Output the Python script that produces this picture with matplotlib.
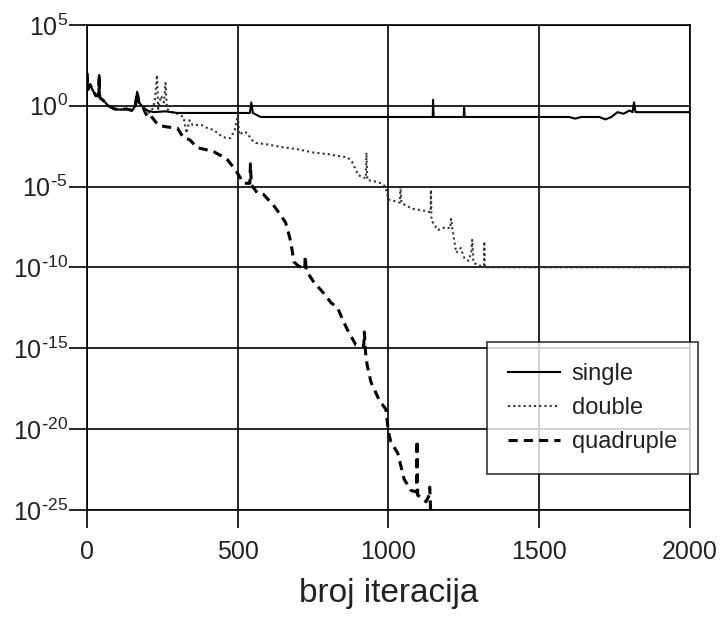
import numpy as np
import matplotlib
matplotlib.use("Agg")
import matplotlib.pyplot as plt
from matplotlib.ticker import FixedLocator, FuncFormatter, NullLocator

plt.rcParams['font.family'] = ['Liberation Sans', 'DejaVu Sans']

# iteration, log10(error)
single_it = [0, 3, 10, 20, 30, 38, 40, 42, 55, 70, 90, 110, 130, 150, 160, 166, 172,
             186, 200, 220, 260, 300, 400, 500, 540, 545, 550, 576, 600, 800, 1000,
             1147, 1148, 1150, 1250, 1251, 1253, 1600, 1620, 1640, 1700, 1720, 1740,
             1760, 1780, 1800, 1810, 1815, 1820, 2000]
single_lg = [2.0, 1.0, 1.3, 0.9, 0.6, 0.7, 1.9, 0.5, 0.3, 0.0, -0.2, -0.25, -0.2, -0.3, 0.0, 0.85, 0.2,
             -0.1, -0.3, -0.4, -0.35, -0.45, -0.45, -0.45, -0.45, 0.2, -0.45, -0.7, -0.7, -0.7, -0.7,
             -0.7, 0.36, -0.7, -0.7, -0.1, -0.7, -0.7, -0.8, -0.7, -0.7, -0.85, -0.7,
             -0.4, -0.5, -0.3, -0.4, 0.2, -0.4, -0.4]

double_it = [0, 3, 10, 20, 30, 38, 40, 42, 55, 70, 90, 110, 130, 150, 160, 166, 172, 186,
             200, 215, 225, 232, 236, 245, 255, 260, 265, 280, 300, 320, 330, 340, 350, 380,
             400, 420, 440, 460, 476, 490, 500, 505, 520, 532, 545, 560, 600, 642, 700, 752,
             800, 830, 865, 880, 900, 925, 927, 930, 960, 975, 990, 1000, 1020, 1038, 1040,
             1043, 1060, 1085, 1120, 1140, 1141, 1143, 1164, 1190, 1205, 1208, 1212, 1225,
             1240, 1251, 1265, 1275, 1278, 1282, 1300, 1317, 1318, 1320, 1330, 2000]
double_lg = [2.0, 1.0, 1.3, 0.9, 0.6, 0.7, 1.9, 0.5, 0.3, 0.0, -0.2, -0.25, -0.2, -0.3, 0.0, 0.85, 0.2, -0.1,
             -0.5, -0.3, 0.3, 1.9, -0.2, 0.6, 0.2, 1.4, -0.2, -0.4, -0.5, -0.7, -1.7, -0.9, -1.2, -1.2,
             -1.4, -1.5, -1.8, -2.0, -2.0, -1.5, -0.6, -1.8, -1.6, -1.7, -2.1, -2.3, -2.4, -2.55, -2.7, -2.9,
             -3.0, -3.1, -3.2, -3.5, -4.3, -4.5, -2.9, -4.6, -4.7, -4.8, -5.0, -5.8, -5.9, -6.0, -5.0,
             -6.0, -6.2, -6.4, -6.5, -6.6, -5.2, -7.1, -7.7, -7.5, -7.6, -7.0, -7.6, -9.1,
             -8.8, -9.4, -9.6, -9.1, -8.3, -9.7, -9.9, -9.9, -8.4, -10.0, -10.0, -10.0]

quad_it = [0, 3, 10, 20, 30, 38, 40, 42, 55, 70, 90, 110, 130, 150, 160, 166, 172, 186,
           190, 200, 210, 236, 260, 300, 320, 340, 366, 390, 420, 445, 466, 493, 520, 540,
           542, 545, 565, 586, 620, 642, 659, 673, 680, 686, 700, 722, 724, 727, 752, 785,
           810, 831, 852, 865, 892, 918, 920, 925, 930, 942, 969, 992, 1000, 1008, 1031,
           1052, 1075, 1093, 1095, 1097, 1108, 1125, 1135, 1137, 1140]
quad_lg = [2.0, 1.0, 1.3, 0.9, 0.6, 0.7, 1.9, 0.5, 0.3, 0.0, -0.2, -0.25, -0.2, -0.3, 0.0, 0.85, 0.2, -0.1,
           -0.3, -0.7, -0.6, -1.2, -1.3, -1.4, -2.0, -2.1, -2.6, -2.7, -2.85, -3.1, -3.35, -4.0, -4.8, -4.8,
           -3.6, -4.9, -5.4, -5.5, -6.2, -6.75, -7.25, -8.2, -8.9, -9.65, -9.9, -10.1, -9.3, -10.2, -10.9, -11.6,
           -12.2, -12.5, -13.4, -13.9, -14.8, -14.9, -14.0, -15.5, -16.1, -17.1, -18.2, -18.8, -20.2, -20.8, -21.5,
           -23.1, -23.8, -23.9, -20.7, -24.1, -24.2, -24.5, -24.1, -23.6, -25.0]

y_exps = [5, 0, -5, -10, -15, -20, -25]
x_ticks = [0, 500, 1000, 1500, 2000]


def exp_label(v, pos):
    e = int(round(np.log10(v)))
    if e < 0:
        return r'$\mathregular{10^{\text{-}%d}}$' % (-e)
    return r'$\mathregular{10^{%d}}$' % e


fig = plt.figure(figsize=(7.2, 6.21), dpi=100)
ax = fig.add_axes([0.121, 0.179, 0.837, 0.781])

ax.plot(quad_it, 10.0 ** np.array(quad_lg), color='black', ls=(0, (3, 2)), lw=2.2, label='quadruple')
ax.plot(double_it, 10.0 ** np.array(double_lg), color='#333333', ls=(0, (1, 1.5)), lw=1.5, label='double')
ax.plot(single_it, 10.0 ** np.array(single_lg), color='black', ls='-', lw=1.5, label='single')

ax.set_yscale('log')
ax.set_xlim(0, 2000)
ax.set_ylim(1e-25, 1e5)
ax.yaxis.set_major_locator(FixedLocator([10.0 ** e for e in y_exps]))
ax.yaxis.set_minor_locator(NullLocator())
ax.yaxis.set_major_formatter(FuncFormatter(exp_label))
ax.set_xticks(x_ticks)

ax.grid(True, color='black', lw=1.2)
for s in ax.spines.values():
    s.set_color('black')
    s.set_linewidth(1.2)
ax.tick_params(axis='both', direction='out', length=13, width=1.2, colors='black',
               labelsize=18, labelcolor='#222222')
ax.tick_params(axis='x', pad=9)
ax.tick_params(axis='y', pad=1)

ax.set_xlabel('broj iteracija', fontsize=24, color='#222222', labelpad=10)

h, l = ax.get_legend_handles_labels()
order = [2, 1, 0]
leg = ax.legend([h[i] for i in order], [l[i] for i in order],
                loc='upper left', bbox_to_anchor=(0.676, 0.449), bbox_transform=fig.transFigure,
                fontsize=17, frameon=True, fancybox=False, borderpad=0.9, handlelength=2.2,
                labelspacing=0.5, handletextpad=0.5, borderaxespad=0)
leg.get_frame().set_edgecolor('black')
leg.get_frame().set_linewidth(1.2)
for t in leg.get_texts():
    t.set_color('#222222')

fig.savefig('out.png', dpi=100)
